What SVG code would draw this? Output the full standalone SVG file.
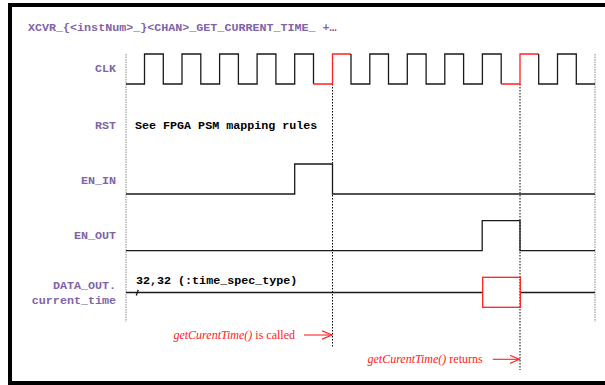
<svg xmlns="http://www.w3.org/2000/svg" width="605" height="385" viewBox="0 0 605 385">
<style>
.lbl{font-family:"Liberation Mono","Courier New",monospace;font-weight:bold;font-size:11.7px;fill:#8064a8;text-anchor:end}
.ttl{font-family:"Liberation Mono","Courier New",monospace;font-weight:bold;font-size:11.7px;fill:#8064a8}
.val{font-family:"Liberation Mono","Courier New",monospace;font-weight:bold;font-size:11.7px;fill:#000}
.note{font-family:"Liberation Serif","Times New Roman",serif;font-size:12px;fill:#ff2020;text-anchor:end}
.sig{fill:none;stroke:#1a1a1a;stroke-width:1.3}
.red{fill:none;stroke:#ff2020;stroke-width:1.3}
.gl{stroke:#888;stroke-width:1;stroke-dasharray:1.5,1}
.bl{stroke:#000;stroke-width:1;stroke-dasharray:1.5,1.5}
.arr{stroke:#ff2020;stroke-width:1.1;fill:none}
</style>
<defs>
<marker id="ah" markerWidth="12" markerHeight="10" refX="10" refY="5" orient="auto" markerUnits="userSpaceOnUse">
<path d="M0,0.8 L10,5 L0,9.2" fill="none" stroke="#ff2020" stroke-width="1.1"/>
</marker>
</defs>
<rect x="10" y="5" width="620" height="378" fill="#fff" stroke="#000" stroke-width="4"/>
<text class="ttl" x="28" y="30.5">XCVR_{&lt;instNum&gt;_}&lt;CHAN&gt;_GET_CURRENT_TIME_ +…</text>

<g id="grid">
<line class="gl" x1="126" y1="54" x2="126" y2="322"/>
<line class="gl" x1="595" y1="54" x2="595" y2="322"/>
<line class="bl" x1="332.5" y1="84" x2="332.5" y2="347"/>
<line class="bl" x1="520" y1="84" x2="520" y2="370"/>
</g>

<g id="clk">
<text class="lbl" x="116" y="71.5">CLK</text>
<path class="sig" d="M126,84 H144.5 V54 H163.3 V84 H182 V54 H200.8 V84 H219.6 V54 H238.4 V84 H257.1 V54 H275.9 V84 H294.7 V54 H313.5 V84"/>
<path class="red" d="M313.5,84 H332.5 V54 H351"/>
<path class="sig" d="M351,54 V84 H369.8 V54 H388.5 V84 H407.3 V54 H426.1 V84 H444.8 V54 H463.6 V84 H482.4 V54 H501.2 V84"/>
<path class="red" d="M501.2,84 H520 V54 H538.7"/>
<path class="sig" d="M538.7,54 V84 H557.5 V54 H576.3 V84 H595"/>
</g>

<g id="rst">
<text class="lbl" x="116" y="129">RST</text>
<text class="val" x="135" y="129">See FPGA PSM mapping rules</text>
</g>

<g id="en_in">
<text class="lbl" x="116" y="184">EN_IN</text>
<path class="sig" d="M126,194 H294.7 V164 H332.5 V194 H595"/>
</g>

<g id="en_out">
<text class="lbl" x="116" y="238.5">EN_OUT</text>
<path class="sig" d="M126,250.7 H482.2 V220.7 H520 V250.7 H595"/>
</g>

<g id="data_out">
<text class="lbl" x="116" y="288.5">DATA_OUT.</text>
<text class="lbl" x="116" y="303.5">current_time</text>
<text class="val" x="136" y="284.3">32,32 (:time_spec_type)</text>
<path class="sig" d="M126,292.5 H482.7 M520.3,292.5 H595"/>
<line class="sig" x1="136.3" y1="295.5" x2="138.3" y2="289.8" stroke-width="1"/>
<rect class="red" x="482.7" y="277.3" width="37.6" height="30"/>
</g>

<g id="connectors">
<line class="arr" x1="304" y1="335" x2="332" y2="335" marker-end="url(#ah)"/>
<line class="arr" x1="492.7" y1="359.3" x2="519.5" y2="359.3" marker-end="url(#ah)"/>
</g>

<g id="notes">
<text class="note" x="295" y="339"><tspan font-style="italic">getCurentTime()</tspan> is called</text>
<text class="note" x="482.7" y="363.3"><tspan font-style="italic">getCurentTime()</tspan> returns</text>
</g>
</svg>
